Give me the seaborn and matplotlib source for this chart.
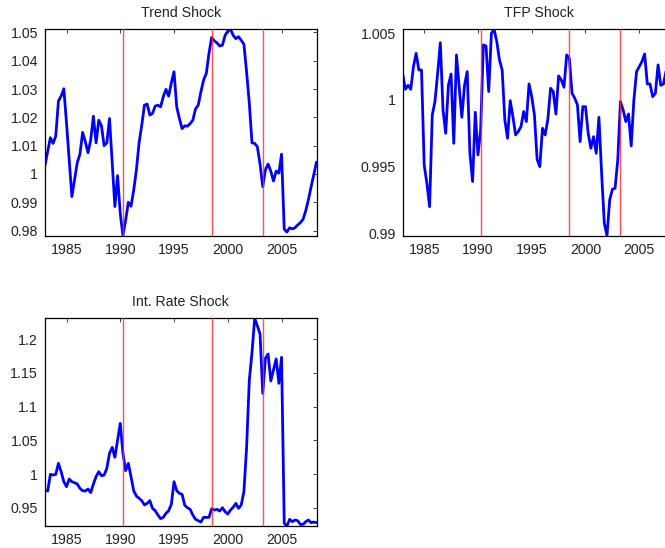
import numpy as np
import pandas as pd
import matplotlib
matplotlib.use("Agg")
import matplotlib.pyplot as plt
import seaborn as sns
from matplotlib.ticker import FuncFormatter

# Quarterly sample, 1983Q1 - 2008Q2
quarters = np.arange(1983.0, 2008.26, 0.25)

trend_shock = [
    1.0030, 1.0080, 1.0128, 1.0108, 1.0134, 1.0258, 1.0275, 1.0301,
    1.0180, 1.0050, 0.9920, 0.9980, 1.0040, 1.0070, 1.0147, 1.0114,
    1.0075, 1.0120, 1.0204, 1.0110, 1.0190, 1.0170, 1.0100, 1.0110,
    1.0196, 1.0040, 0.9885, 0.9994, 0.9860, 0.9782, 0.9837, 0.9900,
    0.9886, 0.9943, 1.0014, 1.0110, 1.0173, 1.0243, 1.0247, 1.0208,
    1.0214, 1.0240, 1.0243, 1.0237, 1.0273, 1.0299, 1.0275, 1.0322,
    1.0361, 1.0237, 1.0196, 1.0160, 1.0170, 1.0169, 1.0178, 1.0190,
    1.0230, 1.0243, 1.0290, 1.0332, 1.0355, 1.0426, 1.0482, 1.0470,
    1.0463, 1.0452, 1.0455, 1.0490, 1.0505, 1.0511, 1.0490, 1.0478,
    1.0485, 1.0472, 1.0458, 1.0360, 1.0250, 1.0110, 1.0108, 1.0096,
    1.0035, 0.9955, 1.0015, 1.0035, 1.0010, 0.9975, 1.0010, 1.0003,
    1.0070, 0.9805, 0.9795, 0.9810, 0.9806, 0.9810, 0.9820, 0.9828,
    0.9840, 0.9870, 0.9910, 0.9955, 0.9998, 1.0042,
]

tfp_shock = [
    1.00195, 1.00080, 1.00110, 1.00080, 1.00250, 1.00350, 1.00225, 1.00225,
    0.99510, 0.99375, 0.99200, 0.99888, 0.99988, 1.00200, 1.00430, 0.99925,
    0.99750, 1.00110, 1.00195, 0.99675, 1.00338, 1.00100, 0.99870, 1.00110,
    1.00213, 0.99600, 0.99388, 0.99908, 0.99588, 0.99775, 1.00413, 1.00405,
    1.00063, 1.00500, 1.00530, 1.00438, 1.00300, 1.00225, 0.99850, 0.99713,
    0.99995, 0.99875, 0.99738, 0.99763, 0.99800, 0.99913, 0.99838, 1.00120,
    1.00025, 0.99888, 0.99555, 0.99500, 0.99788, 0.99738, 0.99855, 1.00088,
    1.00063, 0.99895, 1.00180, 1.00150, 1.00095, 1.00338, 1.00313, 1.00050,
    1.00013, 0.99963, 0.99688, 0.99950, 0.99950, 0.99750, 0.99638, 0.99725,
    0.99600, 0.99870, 0.99450, 0.99075, 0.98982, 0.99250, 0.99330, 0.99338,
    0.99550, 0.99988, 0.99925, 0.99838, 0.99895, 0.99655, 1.00000, 1.00213,
    1.00250, 1.00288, 1.00345, 1.00120, 1.00120, 1.00025, 1.00050, 1.00263,
    1.00110, 1.00120, 1.00220, 1.00150, 1.00200, 1.00180,
]

int_rate_shock = [
    0.9762, 0.9747, 0.9995, 0.9985, 0.9995, 1.0158, 1.0035, 0.9886,
    0.9812, 0.9926, 0.9886, 0.9871, 0.9851, 0.9787, 0.9752, 0.9747,
    0.9777, 0.9723, 0.9851, 0.9960, 1.0035, 0.9975, 0.9985, 1.0084,
    1.0307, 1.0396, 1.0248, 1.0505, 1.0752, 1.0307, 1.0050, 1.0158,
    0.9960, 0.9752, 0.9673, 0.9639, 0.9604, 0.9540, 0.9564, 0.9604,
    0.9490, 0.9455, 0.9391, 0.9337, 0.9356, 0.9416, 0.9455, 0.9550,
    0.9886, 0.9752, 0.9713, 0.9698, 0.9535, 0.9500, 0.9475, 0.9391,
    0.9327, 0.9307, 0.9287, 0.9356, 0.9356, 0.9356, 0.9485, 0.9465,
    0.9475, 0.9450, 0.9500, 0.9441, 0.9406, 0.9465, 0.9505, 0.9564,
    0.9490, 0.9540, 0.9740, 1.0400, 1.1390, 1.1800, 1.2312, 1.2200,
    1.2079, 1.1198, 1.1718, 1.1782, 1.1381, 1.1545, 1.1708, 1.1347,
    1.1733, 0.9267, 0.9228, 0.9327, 0.9292, 0.9317, 0.9307, 0.9252,
    0.9252, 0.9292, 0.9317, 0.9277, 0.9287, 0.9277,
]

# Dates marked with vertical reference lines
event_dates = [1990.25, 1998.5, 2003.25]

x_ticks = [1985, 1990, 1995, 2000, 2005]

panels = [
    ("Trend Shock", trend_shock, [0.98, 0.99, 1.0, 1.01, 1.02, 1.03, 1.04, 1.05]),
    ("TFP Shock", tfp_shock, [0.99, 0.995, 1.0, 1.005]),
    ("Int. Rate Shock", int_rate_shock, [0.95, 1.0, 1.05, 1.1, 1.15, 1.2]),
]

sns.set_theme(style="white")
plt.rcParams["font.family"] = ["Liberation Sans", "DejaVu Sans"]
plt.rcParams.update({
    "xtick.direction": "in",
    "ytick.direction": "in",
    "xtick.top": True,
    "ytick.right": True,
    "xtick.major.size": 3,
    "ytick.major.size": 3,
    "xtick.major.width": 0.6,
    "ytick.major.width": 0.6,
    "xtick.color": "#222222",
    "ytick.color": "#222222",
    "axes.edgecolor": "black",
    "axes.linewidth": 0.9,
})

W, H = 665, 548
fig = plt.figure(figsize=(W / 100, H / 100), dpi=100)

# axes rectangles in pixels: left, top, width, height
rects = [
    (45, 29.3, 271.5, 206.4),
    (402.7, 29.3, 271.5, 206.4),
    (45, 318.3, 271.5, 207.7),
]

fmt = FuncFormatter(lambda v, p: f"{v:g}")

for (title, values, yticks), (l, t, w, h) in zip(panels, rects):
    ax = fig.add_axes([l / W, 1 - (t + h) / H, w / W, h / H])
    df = pd.DataFrame({"date": quarters, "value": values})
    sns.lineplot(data=df, x="date", y="value", ax=ax, color="#0000ff",
                 linewidth=2.0, zorder=2)
    for d in event_dates:
        ax.axvline(d, color="#ff3030", linewidth=1.0, alpha=0.85, zorder=3)
    ax.set_xlim(quarters[0], quarters[-1])
    ax.set_ylim(min(values), max(values))
    ax.set_xticks(x_ticks)
    ax.set_yticks(yticks)
    ax.yaxis.set_major_formatter(fmt)
    ax.tick_params(labelsize=10.2, pad=5, labelcolor="#222222")
    ax.set_xlabel("")
    ax.set_ylabel("")
    ax.set_title(title, fontsize=10.2, pad=8.5, color="#222222")
    for s in ax.spines.values():
        s.set_visible(True)

fig.savefig("out.png", dpi=100)
